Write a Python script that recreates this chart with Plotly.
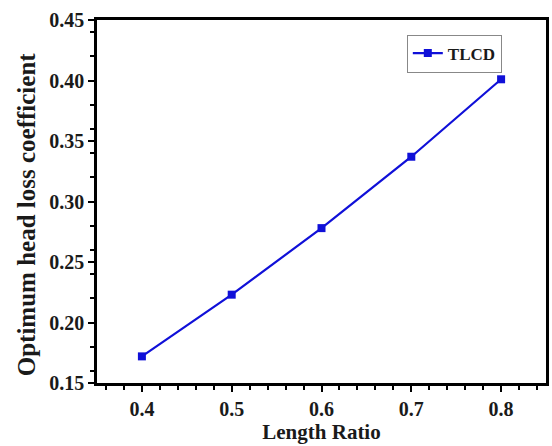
import plotly.graph_objects as go

# Optimum head loss coefficient versus length ratio for the TLCD
length_ratio = [0.4, 0.5, 0.6, 0.7, 0.8]
head_loss_coeff = [0.172, 0.223, 0.278, 0.337, 0.401]
series_name = "TLCD"

x_ticks = [0.4, 0.5, 0.6, 0.7, 0.8]
y_ticks = [0.15, 0.20, 0.25, 0.30, 0.35, 0.40, 0.45]

font_family = "Liberation Serif, Times New Roman, serif"
blue = "#1010d8"
ink = "#1a1a1a"

fig = go.Figure()
fig.add_trace(go.Scatter(
    x=length_ratio, y=head_loss_coeff, name=f"<b>{series_name}</b>",
    mode="lines+markers",
    line=dict(color=blue, width=2.2),
    marker=dict(symbol="square", size=8, color=blue),
))

axis_common = dict(
    showline=True, linecolor="black", linewidth=2.5, mirror=True,
    ticks="outside", ticklen=6, tickwidth=2, tickcolor="black",
    showgrid=False, zeroline=False,
    tickfont=dict(family=font_family, size=20, color=ink),
    minor=dict(ticks="outside", ticklen=4, tickwidth=2, tickcolor="black"),
)

fig.update_xaxes(
    range=[0.35, 0.85], tickvals=x_ticks,
    ticktext=[f"<b>{v:.1f}</b>" for v in x_ticks],
    title=dict(text="<b>Length Ratio</b>", standoff=4,
               font=dict(family=font_family, size=21, color=ink)),
    **axis_common,
)
fig.update_yaxes(
    range=[0.15, 0.45], tickvals=y_ticks,
    ticktext=[f"<b>{v:.2f}</b>" for v in y_ticks],
    **axis_common,
)

# y-axis title placed as an annotation so it can sit slightly below the plot centre
fig.add_annotation(
    text="<b>Optimum head loss coefficient</b>",
    xref="paper", yref="paper", x=-0.158, y=0.465,
    xanchor="center", yanchor="middle", textangle=-90, showarrow=False,
    font=dict(family=font_family, size=25, color=ink),
)

fig.update_layout(
    width=552, height=446,
    margin=dict(l=97, r=3, t=20, b=63),
    paper_bgcolor="white", plot_bgcolor="white",
    font=dict(family=font_family, color=ink),
    showlegend=True,
    legend=dict(
        x=0.69, y=0.96, xanchor="left", yanchor="top",
        bgcolor="white", bordercolor="#888", borderwidth=1,
        font=dict(family=font_family, size=17, color=ink),
        itemwidth=30,
    ),
)

fig.write_html("out.html")
